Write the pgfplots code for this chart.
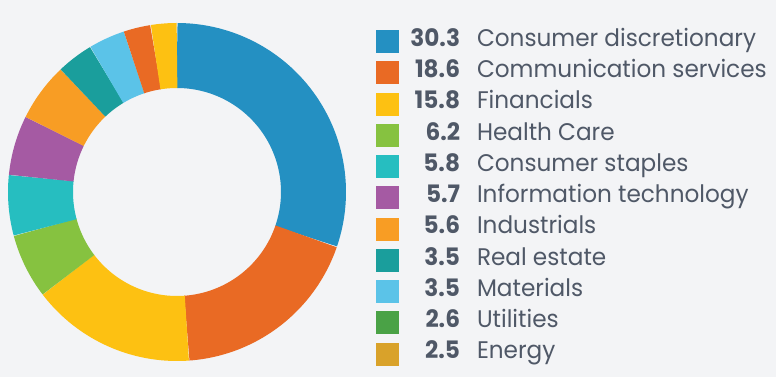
\documentclass[border=0pt]{standalone}
\usepackage{pgfplots}
\usepackage{pgfplotstable}
\pgfplotsset{compat=1.18}
\usepackage{fontspec}
\setmainfont{Poppins}[FakeStretch=0.965]
\definecolor{bg}{HTML}{F3F4F6}
\definecolor{c1}{HTML}{2490C2}
\definecolor{c2}{HTML}{E96A24}
\definecolor{c3}{HTML}{FDC112}
\definecolor{c4}{HTML}{86C240}
\definecolor{c5}{HTML}{26BEC0}
\definecolor{c6}{HTML}{A55AA3}
\definecolor{c7}{HTML}{F89D24}
\definecolor{c8}{HTML}{1A9E9C}
\definecolor{c9}{HTML}{5BC3E8}
\definecolor{c10}{HTML}{4AA246}
\definecolor{c11}{HTML}{D9A22A}
\definecolor{txt}{HTML}{4F5867}

\pgfplotstableread{
value color
30.3 c1
18.6 c2
15.8 c3
6.2 c4
5.8 c5
5.7 c6
5.6 c7
3.5 c8
3.5 c9
2.6 c2
2.5 c3
}\sectors

\newcommand\lgd[2]{\makebox[61pt][r]{\bfseries #1}\hspace{17pt}#2}

\begin{document}
\begin{tikzpicture}
\fill[bg] (0,0) rectangle (776pt,377pt);
\begin{axis}[
  at={(177pt,185pt)}, anchor=center,
  scale only axis, width=338pt, height=338pt,
  xmin=-169, xmax=169, ymin=-169, ymax=169,
  hide axis, clip=false,
  legend cell align=left,
  legend image code/.code={\fill[#1, draw=none] (0pt,-11.5pt) rectangle (23pt,11.5pt);},
  legend style={at={(1.0888,0.9843)}, anchor=north west, draw=none, fill=none,
    inner sep=0pt, outer sep=0pt, row sep=4.85pt,
    font=\fontsize{24}{28}\selectfont, text=txt,
    nodes={inner sep=0pt, text height=18pt, text depth=8.4pt}},
]
\def\cum{0}
\pgfplotsforeachungrouped \i in {0,...,10}{%
  \pgfplotstablegetelem{\i}{value}\of\sectors
  \let\val\pgfplotsretval
  \pgfplotstablegetelem{\i}{color}\of\sectors
  \let\col\pgfplotsretval
  \pgfmathsetmacro\sa{90-\cum/100.1*360}%
  \pgfmathsetmacro\cumnew{\cum+\val}%
  \pgfmathsetmacro\ea{90-\cumnew/100.1*360}%
  \global\let\cum\cumnew
  \edef\tmp{\noexpand\addplot[draw=\col, line width=65pt, domain=\ea:\sa, samples=60, forget plot] ({136.5*cos(x)},{136.5*sin(x)});}%
  \tmp
}
\addlegendimage{fill=c1}\addlegendentry{\lgd{30.3}{Consumer discretionary}}
\addlegendimage{fill=c2}\addlegendentry{\lgd{18.6}{Communication services}}
\addlegendimage{fill=c3}\addlegendentry{\lgd{15.8}{Financials}}
\addlegendimage{fill=c4}\addlegendentry{\lgd{6.2}{Health Care}}
\addlegendimage{fill=c5}\addlegendentry{\lgd{5.8}{Consumer staples}}
\addlegendimage{fill=c6}\addlegendentry{\lgd{5.7}{Information technology}}
\addlegendimage{fill=c7}\addlegendentry{\lgd{5.6}{Industrials}}
\addlegendimage{fill=c8}\addlegendentry{\lgd{3.5}{Real estate}}
\addlegendimage{fill=c9}\addlegendentry{\lgd{3.5}{Materials}}
\addlegendimage{fill=c10}\addlegendentry{\lgd{2.6}{Utilities}}
\addlegendimage{fill=c11}\addlegendentry{\lgd{2.5}{Energy}}
\end{axis}
\useasboundingbox (0,0) rectangle (776pt,377pt);
\end{tikzpicture}
\end{document}
